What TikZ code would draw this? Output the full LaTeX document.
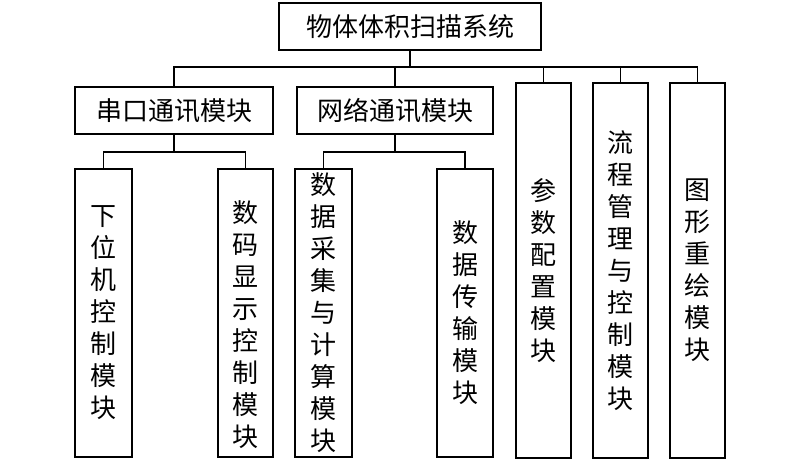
\documentclass[tikz,border=0pt]{standalone}
\usepackage{fontspec}
\newfontfamily\cjk{Noto Sans CJK SC}
\begin{document}
\begin{tikzpicture}[x=1pt,y=-1pt,
  box/.style={draw,line width=1.1pt,inner sep=0pt,font=\cjk\fontsize{26}{32}\selectfont,align=center},
  txt/.style={inner sep=0pt,font=\cjk\fontsize{26}{32}\selectfont,align=center},
  wire/.style={line width=1.1pt}]
\useasboundingbox (0,0) rectangle (800,460);
% top level
\node[box,minimum width=262,minimum height=47] (top) at (410,26.5) {物体体积扫描系统};
% second level
\node[box,minimum width=198,minimum height=47] (chuan) at (174,110.5) {串口通讯模块};
\node[box,minimum width=196,minimum height=47] (wang) at (395,110.5) {网络通讯模块};
\node[box,minimum width=55,minimum height=375] (can) at (543.5,270.5) {参\\数\\配\\置\\模\\块};
\node[box,minimum width=55,minimum height=375] (liu) at (620.5,270.5) {流\\程\\管\\理\\与\\控\\制\\模\\块};
\node[box,minimum width=55,minimum height=375] (tu) at (697.5,270.5) {图\\形\\重\\绘\\模\\块};
% leaves
\node[box,minimum width=57,minimum height=288] (xia) at (103.5,313) {下\\位\\机\\控\\制\\模\\块};
\node[box,minimum width=55,minimum height=288] (shuma) at (245.5,313) {};
\node[txt] (shumatext) at (245.5,325) {数\\码\\显\\示\\控\\制\\模\\块};
\node[box,minimum width=57,minimum height=288] (cai) at (323.5,313) {数\\据\\采\\集\\与\\计\\算\\模\\块};
\node[box,minimum width=56,minimum height=288] (chuan2) at (465,313) {数\\据\\传\\输\\模\\块};
% connectors
\coordinate (b1) at (410,67);
\coordinate (b2) at (174,152);
\coordinate (b3) at (395,152);
\draw[wire] (top.south) -- (b1);
\draw[wire] (chuan.north) |- (b1);
\draw[wire] (tu.north) |- (b1);
\draw[wire] (wang.north) -- (wang.north |- b1);
\draw[wire] (can.north) -- (can.north |- b1);
\draw[wire] (liu.north) -- (liu.north |- b1);
\draw[wire] (chuan.south) -- (b2);
\draw[wire] (xia.north) |- (b2);
\draw[wire] (shuma.north) |- (b2);
\draw[wire] (wang.south) -- (b3);
\draw[wire] (cai.north) |- (b3);
\draw[wire] (chuan2.north) |- (b3);
\end{tikzpicture}
\end{document}
